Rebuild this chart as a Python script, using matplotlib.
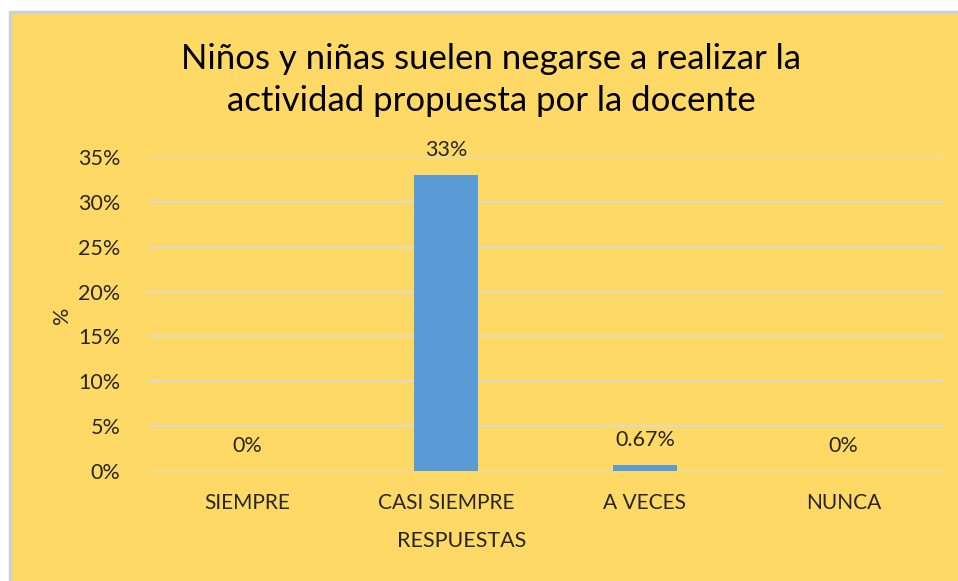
import numpy as np
import matplotlib.pyplot as plt
from matplotlib.patches import Rectangle

categories = ['SIEMPRE', 'CASI SIEMPRE', 'A VECES', 'NUNCA']
values = [0.0, 0.33, 0.0067, 0.0]
labels = ['0%', '33%', '0.67%', '0%']

yellow = '#FFD966'
blue = '#5B9BD5'
grid_c = '#D9D9D9'
txt = '#262626'

plt.rcParams['font.family'] = ['Lato', 'DejaVu Sans']

fig = plt.figure(figsize=(9.58, 5.81), dpi=100)
fig.patch.set_facecolor('white')

# yellow chart area with thin gray frame (runs off the right and bottom edges)
fig.patches.append(Rectangle((10 / 958, -0.05), 1.1, 1.05 - 12 / 581, transform=fig.transFigure,
                             facecolor=yellow, edgecolor='#D0D0D0', linewidth=2.5, zorder=-10))

ax = fig.add_axes([148 / 958, 1 - 471 / 581, (943 - 148) / 958, (471 - 157) / 581])
ax.set_facecolor('none')

x = np.arange(len(categories))
ax.bar(x, values, width=0.32, color=blue, zorder=3)

ax.set_xlim(-0.5, len(categories) - 0.5)
ax.set_ylim(0, 0.35)
ticks = np.arange(0, 0.351, 0.05)
ax.set_yticks(ticks)
ax.set_yticklabels([f'{int(round(v * 100))}%' for v in ticks], fontsize=15.5, color=txt)
ax.set_xticks(x)
ax.set_xticklabels(categories, fontsize=15, color=txt)
ax.tick_params(axis='both', length=0)
ax.tick_params(axis='x', pad=16)
ax.tick_params(axis='y', pad=20)
ax.yaxis.grid(True, color=grid_c, linewidth=1.3, zorder=0)
for s in ax.spines.values():
    s.set_visible(False)

for xi, v, lab in zip(x, values, labels):
    ax.annotate(lab, (xi, v), xytext=(0, 18), textcoords='offset points',
                ha='center', va='center', fontsize=15.5, color=txt)

ax.set_xlabel('RESPUESTAS', fontsize=15.5, color=txt)
ax.xaxis.set_label_coords((462 - 148) / 795, -(541 - 471) / 314)
ax.xaxis.label.set_va('center')
ax.set_ylabel('%', fontsize=15.5, color=txt)
ax.yaxis.set_label_coords((62 - 148) / 795, (471 - 315) / 314)
ax.yaxis.label.set_va('center')

fig.text(491 / 958, 1 - 80 / 581,
         'Niños y niñas suelen negarse a realizar la\nactividad propuesta por la docente',
         ha='center', va='center', fontsize=25, color='black', linespacing=1.4)

fig.savefig('out.png', dpi=100)
